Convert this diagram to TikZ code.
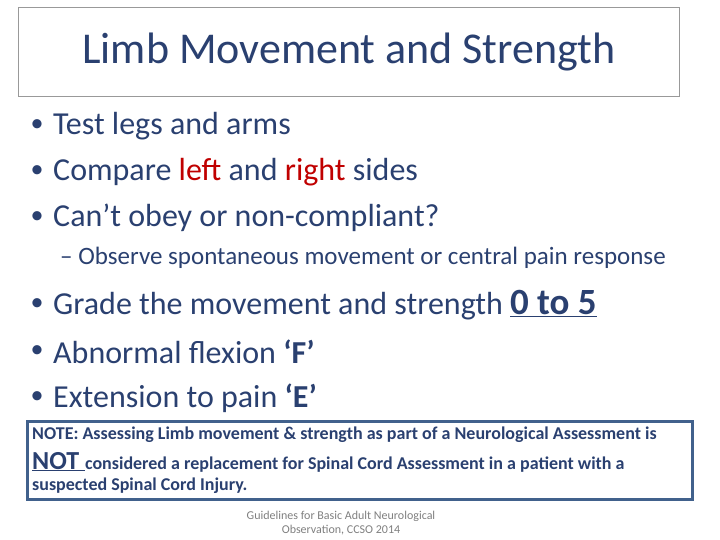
\documentclass[tikz,border=0pt]{standalone}
\usepackage{fontspec}
\setmainfont{Carlito}
\definecolor{txt}{HTML}{2A4070}
\definecolor{red1}{HTML}{C00000}
\definecolor{boxb}{HTML}{41618C}
\definecolor{gr}{HTML}{7F7F7F}
\begin{document}
\begin{tikzpicture}[x=1pt,y=-1pt,
  bul/.style={anchor=west,text=txt,font=\fontsize{32}{36}\selectfont,inner sep=0},
  dot/.style={anchor=center,text=txt,font=\fontsize{26}{30}\selectfont,inner sep=0},
  note/.style={anchor=west,text=txt,font=\bfseries\fontsize{18}{21}\selectfont,inner sep=0}]
\useasboundingbox (0,0) rectangle (720,540);
\node[draw=gr!80,line width=0.8pt,minimum width=661pt,minimum height=89pt,anchor=north west,inner sep=0] (title) at (18,7) {};
\node[text=txt,font=\fontsize{44}{48}\selectfont] (tt) at (title.center) {Limb Movement and Strength};
\node[dot] (d1) at (37,126) {•}; \node[bul] (b1) at (53,126) {Test legs and arms};
\node[dot] (d2) at (37,172) {•}; \node[bul] (b2) at (53,172) {Compare \textcolor{red1}{left} and \textcolor{red1}{right} sides};
\node[dot] (d3) at (37,218) {•}; \node[bul] (b3) at (53,218) {Can’t obey or non-compliant?};
\node[bul,font=\fontsize{25}{28}\selectfont] (s1) at (60,258) {– Observe spontaneous movement or central pain response};
\node[dot] (d4) at (37,305) {•}; \node[bul] (b4) at (53,305) {Grade the movement and strength \textbf{\fontsize{37}{40}\selectfont\underline{0 to 5}}};
\node[dot] (d5) at (37,352) {•}; \node[bul] (b5) at (53,352) {Abnormal flexion \textbf{‘F’}};
\node[dot] (d6) at (37,398) {•}; \node[bul] (b6) at (53,398) {Extension to pain \textbf{‘E’}};
\node[draw=boxb,line width=3pt,minimum width=665pt,minimum height=78pt,anchor=north west,inner sep=0] (nb) at (26,420) {};
\node[note] (n1) at (32,435) {NOTE: Assessing Limb movement \& strength as part of a Neurological Assessment is};
\node[note] (n2) at (32,462) {{\fontsize{26}{28}\selectfont\underline{NOT }}considered a replacement for Spinal Cord Assessment in a patient with a};
\node[note] (n3) at (32,486) {suspected Spinal Cord Injury.};
\node[text=gr,font=\fontsize{12}{14}\selectfont,align=center,inner sep=0] (ft) at (341,523) {Guidelines for Basic Adult Neurological\\Observation, CCSO 2014};
\end{tikzpicture}
\end{document}
